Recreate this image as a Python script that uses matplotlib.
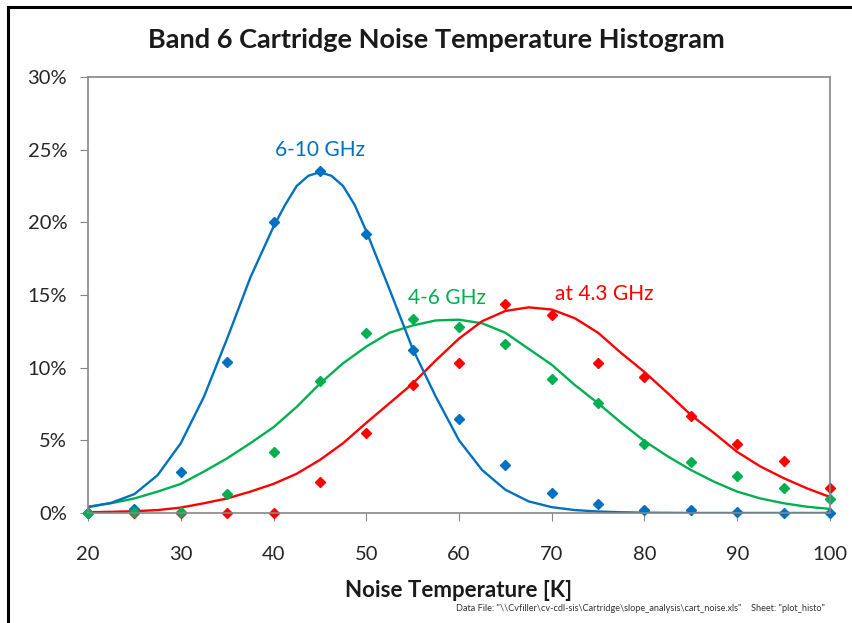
import numpy as np
import matplotlib
matplotlib.use("Agg")
import matplotlib.pyplot as plt
from matplotlib.lines import Line2D
from matplotlib.ticker import FuncFormatter

# histogram points, every 5 K (percent)
t_pts = [20, 25, 30, 35, 40, 45, 50, 55, 60, 65, 70, 75, 80, 85, 90, 95, 100]
blue_pts = [0, 0.3, 2.8, 10.4, 20.0, 23.5, 19.2, 11.2, 6.5, 3.3, 1.4, 0.6, 0.2, 0.2, 0.05, 0, 0]
green_pts = [0, 0.05, 0.1, 1.3, 4.2, 9.1, 12.4, 13.35, 12.8, 11.6, 9.25, 7.55, 4.75, 3.5, 2.55, 1.72, 0.98]
red_pts = [0, 0, 0, 0, 0, 2.1, 5.5, 8.8, 10.3, 14.4, 13.6, 10.3, 9.35, 6.7, 4.75, 3.6, 1.7]

# fitted curves (percent)
t_fit = [20, 22.5, 25, 27.5, 30, 32.5, 35, 37.5, 40, 42.5, 45, 47.5, 50, 52.5, 55, 57.5, 60,
         62.5, 65, 67.5, 70, 72.5, 75, 77.5, 80, 82.5, 85, 87.5, 90, 92.5, 95, 97.5, 100]
t_blue = [20, 22.5, 25, 27.5, 30, 32.5, 35, 37.5, 40, 41.25, 42.5, 43.75, 45, 46.25, 47.5, 48.75, 50,
          52.5, 55, 57.5, 60, 62.5, 65, 67.5, 70, 72.5, 75, 77.5, 80, 85, 90, 95, 100]
blue_fit = [0.4, 0.7, 1.3, 2.6, 4.8, 8.0, 12.0, 16.2, 19.7, 21.2, 22.5, 23.2, 23.45, 23.2, 22.5, 21.2, 19.4,
            15.4, 11.3, 8.0, 5.0, 2.95, 1.6, 0.8, 0.4, 0.2, 0.1, 0.05, 0.02, 0, 0, 0, 0]
green_fit = [0.43, 0.67, 1.0, 1.47, 2.0, 2.85, 3.76, 4.8, 5.9, 7.3, 8.9, 10.3, 11.45, 12.4, 12.9, 13.25, 13.3,
             13.05, 12.4, 11.3, 10.2, 8.8, 7.55, 6.2, 4.95, 3.9, 2.96, 2.15, 1.47, 1.0, 0.67, 0.43, 0.28]
red_fit = [0.05, 0.08, 0.12, 0.2, 0.37, 0.67, 1.0, 1.47, 2.0, 2.7, 3.65, 4.8, 6.2, 7.55, 8.9, 10.5, 12.0,
           13.2, 13.9, 14.15, 14.0, 13.4, 12.4, 11.0, 9.7, 8.25, 6.75, 5.5, 4.2, 3.2, 2.4, 1.7, 1.1]

BLUE = "#0070C0"
GREEN = "#00B050"
RED = "#FF0000"

plt.rcParams['font.family'] = ['Lato', 'DejaVu Sans']

fig = plt.figure(figsize=(8.53, 6.23), dpi=100)
ax = fig.add_axes([0.1032, 0.1766, 0.8698, 0.6998])

ax.plot(t_fit, green_fit, color=GREEN, lw=1.7)
ax.plot(t_fit, red_fit, color=RED, lw=1.7)
ax.plot(t_blue, blue_fit, color=BLUE, lw=1.7)
ax.plot(t_pts, red_pts, 'D', color=RED, ms=5.3, clip_on=False)
ax.plot(t_pts, blue_pts, 'D', color=BLUE, ms=5.3, clip_on=False)
ax.plot(t_pts, green_pts, 'D', color=GREEN, ms=5.3, clip_on=False)

ax.set_xlim(20, 100)
ax.set_ylim(0, 30)
ax.set_xticks(range(20, 101, 10))
ax.set_yticks(range(0, 31, 5))
ax.yaxis.set_major_formatter(FuncFormatter(lambda v, p: f"{v:.0f}%"))
ax.tick_params(axis='both', direction='out', length=6, color='#868686',
               labelsize=14.5, labelcolor='#262626')
ax.tick_params(axis='y', pad=9)
ax.tick_params(axis='x', pad=18)
for s in ax.spines.values():
    s.set_color('#868686')
    s.set_linewidth(1.2)

ax.text(45, 25.0, "6-10 GHz", color=BLUE, fontsize=15, ha='center', va='center')
ax.text(58.7, 14.8, "4-6 GHz", color=GREEN, fontsize=15, ha='center', va='center')
ax.text(75.7, 15.1, "at 4.3 GHz", color=RED, fontsize=15, ha='center', va='center')

fig.text(0.511, 0.935, "Band 6 Cartridge Noise Temperature Histogram", ha='center', va='center',
         fontsize=19.5, fontweight='bold', color='#1a1a1a')
ax.set_xlabel("Noise Temperature [K]", fontsize=16, fontweight='bold', color='#1a1a1a', labelpad=12)
fig.text(0.534, 0.024,
         'Data File: "\\\\Cvfiller\\cv-cdl-sis\\Cartridge\\slope_analysis\\cart_noise.xls"    Sheet: "plot_histo"',
         fontsize=6.6, color='#333333', ha='left', va='center')

# black frame at top and left
fig.add_artist(Line2D([0.0094, 1.0], [0.988, 0.988], color='black', lw=2.2, transform=fig.transFigure))
fig.add_artist(Line2D([0.0094, 0.0094], [0.0, 0.988], color='black', lw=2.2, transform=fig.transFigure))

fig.savefig("out.png", dpi=100, facecolor='white')
